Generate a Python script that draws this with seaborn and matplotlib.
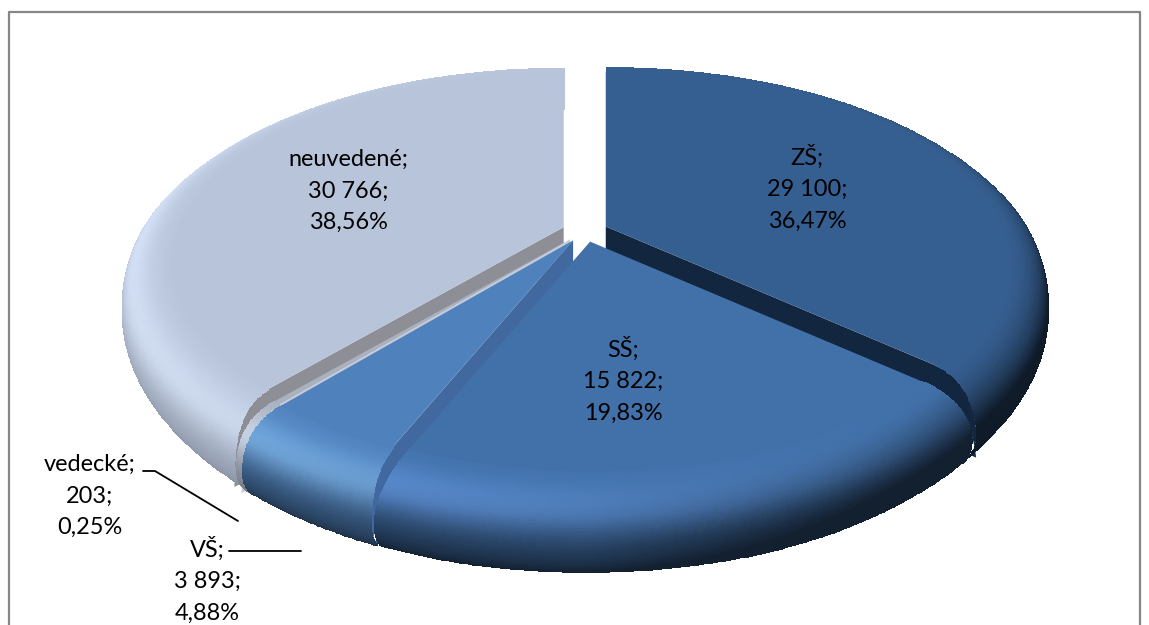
# exploded 3d style pie, vzdelanie
import numpy as np
import matplotlib
matplotlib.use("Agg")
import matplotlib.pyplot as plt
from matplotlib.transforms import Transform
import seaborn as sns

categories = ["ZŠ", "SŠ", "VŠ", "vedecké", "neuvedené"]
values = [29100, 15822, 3893, 203, 30766]
value_labels = ["29 100", "15 822", "3 893", "203", "30 766"]
percent_labels = ["36,47%", "19,83%", "4,88%", "0,25%", "38,56%"]
top_colors = ["#365f91", "#4271aa", "#4f81bd", "#aab2c0", "#b8c4da"]
cut_colors = ["#12263f", "#2f5486", "#41699f", "#c4ccda", "#8e8f96"]
cut_thick = [25, 21, 38, 21, 21]
label_pos = [(807, 188), (623, 380), (207, 580), (90, 496), (348, 191)]
FONT_SIZE = 16.9

# perspective of the pie plane, in pixels
CX, CY = 585, 231
A, B, P = 438, 210, 0.22
EXPLODE = 0.052
R_FLAT = 0.88
Z_BEVEL = 38


def project(u, v, z=0.0, du=0.0, dv=0.0):
    # the slice offset is added after the perspective, so the cut edges at the top stay upright
    w = 1 + P * v
    return CX + A * (u / w + du), CY - (B * v + z) / w - B * dv


class PiePlane(Transform):
    input_dims = 2
    output_dims = 2

    def __init__(self, du, dv):
        super().__init__()
        self.du, self.dv = du, dv

    def transform_non_affine(self, values):
        values = np.asarray(values)
        x, y = project(values[:, 0], values[:, 1], 0.0, self.du, self.dv)
        return np.column_stack([x, y])


def profile(n=60):
    # bottom of the rim first so the upper part paints over it
    phi = np.radians(np.linspace(128, -2, n))
    r = R_FLAT + (1 - R_FLAT) * np.sin(phi)
    z = -Z_BEVEL * (1 - np.cos(phi))
    return phi, r, z


def closing(theta, phi):
    # slices come together again at the front of the rim
    s = np.sin(np.clip(phi, 0, np.pi / 2))
    return 1 - 0.8 * s ** 2 * np.clip(0.2 - np.cos(theta), 0, 1)


def shade(base, theta, phi):
    u, v = np.sin(theta), np.cos(theta)
    phi = np.maximum(phi, 0)
    s = np.sin(np.minimum(phi, np.pi / 2))
    # bright streak on the lower left, right and front edge fall dark
    g = np.clip(0.6 * -u - 0.25 * v + 0.25, 0, 1)
    lit = 0.95 * g * np.exp(-((phi - 0.85) / 0.5) ** 2)
    dark = (np.clip(0.95 * u, 0, 1) + 0.5 * np.clip(-v, 0, 1)) * s ** 2.5
    dark = dark + 0.75 * np.clip((phi - 0.9) / 1.3, 0, 1) ** 1.3 * np.clip((0.95 - v) / 0.3, 0, 1)
    # pale slices do not go as dark
    lum = np.dot(base, [0.3, 0.59, 0.11])
    k_dark = np.clip(0.62 * dark * min(1.6 * (1 - lum), 1), 0, 0.72)[..., None]
    k_lit = lit[..., None]
    target = np.minimum(base * np.array([1.7, 1.5, 1.8]), [0.85, 0.9, 0.98])
    out = (base + (target - base) * k_lit) * (1 - k_dark)
    return np.clip(out, 0, 1)


def draw_rim(ax, t0, t1, du, dv, base, zorder):
    phi, r, z = profile()
    theta = np.radians(np.linspace(t0, t1, max(int(t1 - t0) * 2, 3) + 1))
    tt, rr = np.meshgrid(theta, r)
    pp = np.repeat(phi[:, None], len(theta), axis=1)
    zz = np.repeat(z[:, None], len(theta), axis=1)
    f = closing(tt, pp)
    X, Y = project(rr * np.sin(tt), rr * np.cos(tt), zz, du * f, dv * f)
    tm = (theta[:-1] + theta[1:]) / 2
    pm = (phi[:-1] + phi[1:]) / 2
    tc, pc = np.meshgrid(tm, pm)
    colors = shade(np.array(base), tc, pc)
    ax.pcolormesh(X, Y, colors, shading="flat", edgecolors="face", linewidth=0.6, zorder=zorder)


def draw_cut(ax, t, du, dv, color, thick, zorder):
    # band of the cut side, follows the falling top edge
    phi, r, z = profile()
    a = np.radians(t)
    f = closing(a, phi)
    z_low = np.maximum(z - thick, z[0] + 5)
    rs = np.concatenate([[0], r[::-1], r, [0]])
    zs = np.concatenate([[0], z[::-1], z_low, [-thick]])
    fs = np.concatenate([[1], f[::-1], f, [1]])
    X, Y = project(rs * np.sin(a), rs * np.cos(a), zs, du * fs, dv * fs)
    ax.fill(X, Y, color=color, linewidth=0, zorder=zorder)


sns.set_theme(style="white")
plt.rcParams["font.family"] = ["Lato", "DejaVu Sans"]

fig = plt.figure(figsize=(11.49, 6.25), dpi=100)
ax = fig.add_axes([0, 0, 1, 1])

palette = sns.color_palette(top_colors)
wedges, _ = ax.pie(values, colors=palette, startangle=90, counterclock=False,
                   radius=R_FLAT, wedgeprops=dict(linewidth=0))
ax.set_aspect("auto")
ax.set_xlim(0, 1149)
ax.set_ylim(625, 0)
ax.axis("off")

# clockwise angles from the top
edges = np.concatenate([[0], np.cumsum(values) / np.sum(values) * 360])

# back to front, with the cut side that can be seen
draw_order = [(4, 0), (0, 1), (3, 0), (2, 0), (1, None)]
for k, (i, side) in enumerate(draw_order):
    t0, t1 = edges[i], edges[i + 1]
    tm = np.radians((t0 + t1) / 2)
    du, dv = EXPLODE * np.sin(tm), EXPLODE * np.cos(tm)
    if side is not None:
        draw_cut(ax, edges[i + side], du, dv, cut_colors[i], cut_thick[i], 10 * k)
    draw_rim(ax, t0, t1, du, dv, palette[i], 10 * k + 1)
    wedges[i].set_transform(PiePlane(du, dv) + ax.transData)
    wedges[i].set_zorder(10 * k + 2)

# labels
for i, name in enumerate(categories):
    ax.text(label_pos[i][0], label_pos[i][1], f"{name};\n{value_labels[i]};\n{percent_labels[i]}",
            ha="center", va="center", fontsize=FONT_SIZE, color="black",
            linespacing=1.62, zorder=100)

# leader lines
ax.plot([143, 155, 238], [471, 471, 521], color="black", lw=1.3, zorder=90)
ax.plot([229, 301], [551, 551], color="black", lw=1.3, zorder=90)

# chart frame, bottom edge is cut off
ax.plot([9, 9, 1140, 1140], [625, 12, 12, 625], color="#868686", lw=1.6, zorder=95)

fig.savefig("out.png", dpi=100)
